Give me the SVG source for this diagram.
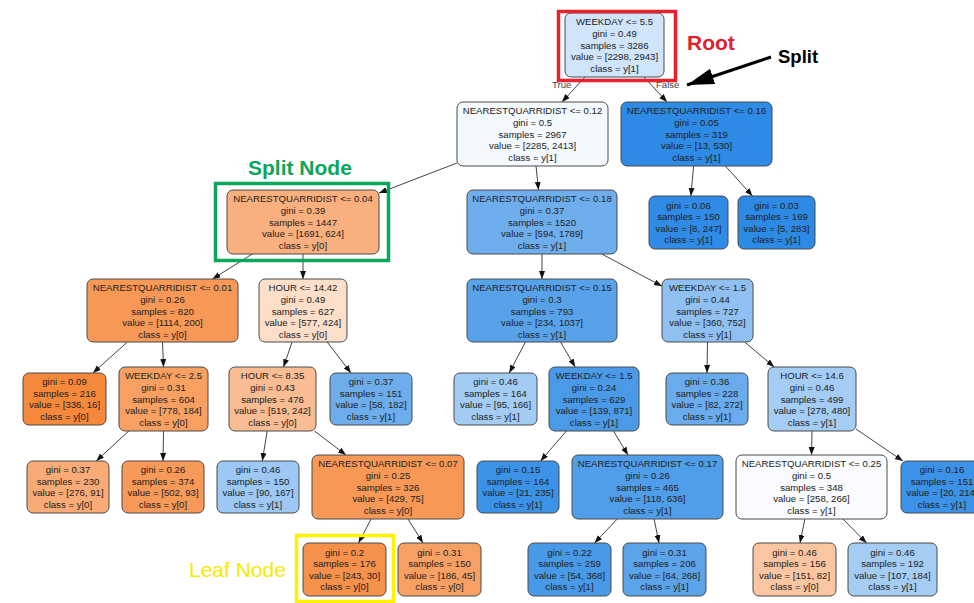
<svg xmlns="http://www.w3.org/2000/svg" width="974" height="603" viewBox="0 0 974 603">
  <defs>
    <marker id="arrow" markerUnits="userSpaceOnUse" markerWidth="9" markerHeight="7" refX="8" refY="3" orient="auto">
      <path d="M0,0 L8,3 L0,6 z" fill="#111"/>
    </marker>
    <marker id="bigArrow" markerUnits="userSpaceOnUse" markerWidth="28" markerHeight="18" refX="27" refY="8" orient="auto">
      <path d="M0,0 L27,8 L0,16 z" fill="#000"/>
    </marker>
  </defs>
  <style>
    .node rect { stroke: #4a4a4a; stroke-width: 1; }
    .node text { font-family: "Liberation Sans", Arial, sans-serif; font-size: 9.6px; fill: #222; text-anchor: middle; }
    .edges line { stroke: #444; stroke-width: 1; marker-end: url(#arrow); }
    .elabel { font-family: "Liberation Sans", Arial, sans-serif; font-size: 9.6px; fill: #444; }
    .note { font-family: "Liberation Sans", Arial, sans-serif; }
  </style>
  <rect width="974" height="603" fill="#fff"/>

  <!-- connectors -->
  <g id="edges" class="edges">
    <line x1="585" y1="77" x2="562" y2="102"/>
    <line x1="644" y1="77" x2="667" y2="102"/>
    <line x1="457" y1="163" x2="379" y2="193"/>
    <line x1="536" y1="166" x2="538.5" y2="190"/>
    <line x1="693.6" y1="166" x2="690.9" y2="196"/>
    <line x1="725.4" y1="166" x2="752.5" y2="196"/>
    <line x1="252.2" y1="254" x2="212.5" y2="279"/>
    <line x1="303" y1="254" x2="303" y2="279"/>
    <line x1="542" y1="254" x2="542" y2="279"/>
    <line x1="601.8" y1="254" x2="662" y2="286.2"/>
    <line x1="127.4" y1="342" x2="92.9" y2="373"/>
    <line x1="162.5" y1="342" x2="163.5" y2="367"/>
    <line x1="292.1" y1="342" x2="283.5" y2="367"/>
    <line x1="327.2" y1="342" x2="351" y2="373"/>
    <line x1="525.4" y1="342" x2="509.2" y2="373"/>
    <line x1="560.5" y1="342" x2="575.2" y2="367"/>
    <line x1="707.5" y1="342" x2="707" y2="373"/>
    <line x1="744.7" y1="342" x2="774.2" y2="367"/>
    <line x1="128.8" y1="431" x2="96.2" y2="461"/>
    <line x1="163.5" y1="431" x2="163" y2="461"/>
    <line x1="267.2" y1="431" x2="262.3" y2="461"/>
    <line x1="314.5" y1="431" x2="346" y2="455"/>
    <line x1="566.4" y1="431" x2="540.5" y2="461"/>
    <line x1="613.5" y1="431" x2="628" y2="455"/>
    <line x1="812" y1="431" x2="811.5" y2="455"/>
    <line x1="856" y1="429" x2="902.9" y2="461"/>
    <line x1="371.1" y1="519" x2="358.5" y2="543"/>
    <line x1="408" y1="519" x2="423" y2="543"/>
    <line x1="617.2" y1="519" x2="594.5" y2="543"/>
    <line x1="654.1" y1="519" x2="659" y2="543"/>
    <line x1="804.9" y1="519" x2="800" y2="543"/>
    <line x1="842.9" y1="519" x2="866.5" y2="543"/>
  </g>
  <text class="elabel" x="552" y="88">True</text>
  <text class="elabel" x="656" y="88">False</text>

  <!-- tree nodes -->
  <g id="n0" class="node"><rect x="565" y="13" width="99" height="64" rx="6" fill="#d0e5f9"/>
    <text x="614.5" y="25.3"><tspan x="614.5">WEEKDAY &lt;= 5.5</tspan><tspan x="614.5" dy="11.6">gini = 0.49</tspan><tspan x="614.5" dy="11.6">samples = 3286</tspan><tspan x="614.5" dy="11.6">value = [2298, 2943]</tspan><tspan x="614.5" dy="11.6">class = y[1]</tspan></text></g>
  <g id="n1" class="node"><rect x="457" y="102" width="151" height="64" rx="6" fill="#f4f9fe"/>
    <text x="532.5" y="114.3"><tspan x="532.5">NEARESTQUARRIDIST &lt;= 0.12</tspan><tspan x="532.5" dy="11.6">gini = 0.5</tspan><tspan x="532.5" dy="11.6">samples = 2967</tspan><tspan x="532.5" dy="11.6">value = [2285, 2413]</tspan><tspan x="532.5" dy="11.6">class = y[1]</tspan></text></g>
  <g id="n2" class="node"><rect x="621" y="102" width="151" height="64" rx="6" fill="#2d8ae5"/>
    <text x="696.5" y="114.3"><tspan x="696.5">NEARESTQUARRIDIST &lt;= 0.16</tspan><tspan x="696.5" dy="11.6">gini = 0.05</tspan><tspan x="696.5" dy="11.6">samples = 319</tspan><tspan x="696.5" dy="11.6">value = [13, 530]</tspan><tspan x="696.5" dy="11.6">class = y[1]</tspan></text></g>
  <g id="n3" class="node"><rect x="227" y="190" width="152" height="64" rx="6" fill="#f9b07e"/>
    <text x="303" y="202.3"><tspan x="303">NEARESTQUARRIDIST &lt;= 0.04</tspan><tspan x="303" dy="11.6">gini = 0.39</tspan><tspan x="303" dy="11.6">samples = 1447</tspan><tspan x="303" dy="11.6">value = [1691, 624]</tspan><tspan x="303" dy="11.6">class = y[0]</tspan></text></g>
  <g id="n4" class="node"><rect x="467" y="190" width="150" height="64" rx="6" fill="#6faeed"/>
    <text x="542" y="202.3"><tspan x="542">NEARESTQUARRIDIST &lt;= 0.18</tspan><tspan x="542" dy="11.6">gini = 0.37</tspan><tspan x="542" dy="11.6">samples = 1520</tspan><tspan x="542" dy="11.6">value = [594, 1789]</tspan><tspan x="542" dy="11.6">class = y[1]</tspan></text></g>
  <g id="n5" class="node"><rect x="649" y="196" width="79" height="53" rx="6" fill="#2f8be5"/>
    <text x="688.5" y="208.6"><tspan x="688.5">gini = 0.06</tspan><tspan x="688.5" dy="11.6">samples = 150</tspan><tspan x="688.5" dy="11.6">value = [8, 247]</tspan><tspan x="688.5" dy="11.6">class = y[1]</tspan></text></g>
  <g id="n6" class="node"><rect x="738" y="196" width="77" height="53" rx="6" fill="#2c89e4"/>
    <text x="776.5" y="208.6"><tspan x="776.5">gini = 0.03</tspan><tspan x="776.5" dy="11.6">samples = 169</tspan><tspan x="776.5" dy="11.6">value = [5, 283]</tspan><tspan x="776.5" dy="11.6">class = y[1]</tspan></text></g>
  <g id="n7" class="node"><rect x="87" y="279" width="151" height="63" rx="6" fill="#f79857"/>
    <text x="162.5" y="291.3"><tspan x="162.5">NEARESTQUARRIDIST &lt;= 0.01</tspan><tspan x="162.5" dy="11.6">gini = 0.26</tspan><tspan x="162.5" dy="11.6">samples = 820</tspan><tspan x="162.5" dy="11.6">value = [1114, 200]</tspan><tspan x="162.5" dy="11.6">class = y[0]</tspan></text></g>
  <g id="n8" class="node"><rect x="259" y="279" width="88" height="63" rx="6" fill="#fcdec9"/>
    <text x="303" y="291.3"><tspan x="303">HOUR &lt;= 14.42</tspan><tspan x="303" dy="11.6">gini = 0.49</tspan><tspan x="303" dy="11.6">samples = 627</tspan><tspan x="303" dy="11.6">value = [577, 424]</tspan><tspan x="303" dy="11.6">class = y[0]</tspan></text></g>
  <g id="n9" class="node"><rect x="467" y="279" width="150" height="63" rx="6" fill="#58a2ea"/>
    <text x="542" y="291.3"><tspan x="542">NEARESTQUARRIDIST &lt;= 0.15</tspan><tspan x="542" dy="11.6">gini = 0.3</tspan><tspan x="542" dy="11.6">samples = 793</tspan><tspan x="542" dy="11.6">value = [234, 1037]</tspan><tspan x="542" dy="11.6">class = y[1]</tspan></text></g>
  <g id="n10" class="node"><rect x="662" y="279" width="91" height="63" rx="6" fill="#8fc0f1"/>
    <text x="707.5" y="291.3"><tspan x="707.5">WEEKDAY &lt;= 1.5</tspan><tspan x="707.5" dy="11.6">gini = 0.44</tspan><tspan x="707.5" dy="11.6">samples = 727</tspan><tspan x="707.5" dy="11.6">value = [360, 752]</tspan><tspan x="707.5" dy="11.6">class = y[1]</tspan></text></g>
  <g id="n11" class="node"><rect x="23" y="373" width="83" height="52" rx="6" fill="#f6883c"/>
    <text x="64.5" y="385.1"><tspan x="64.5">gini = 0.09</tspan><tspan x="64.5" dy="11.6">samples = 216</tspan><tspan x="64.5" dy="11.6">value = [336, 16]</tspan><tspan x="64.5" dy="11.6">class = y[0]</tspan></text></g>
  <g id="n12" class="node"><rect x="119" y="367" width="89" height="64" rx="6" fill="#f7a062"/>
    <text x="163.5" y="379.3"><tspan x="163.5">WEEKDAY &lt;= 2.5</tspan><tspan x="163.5" dy="11.6">gini = 0.31</tspan><tspan x="163.5" dy="11.6">samples = 604</tspan><tspan x="163.5" dy="11.6">value = [778, 184]</tspan><tspan x="163.5" dy="11.6">class = y[0]</tspan></text></g>
  <g id="n13" class="node"><rect x="229" y="367" width="87" height="64" rx="6" fill="#fabc92"/>
    <text x="272.5" y="379.3"><tspan x="272.5">HOUR &lt;= 8.35</tspan><tspan x="272.5" dy="11.6">gini = 0.43</tspan><tspan x="272.5" dy="11.6">samples = 476</tspan><tspan x="272.5" dy="11.6">value = [519, 242]</tspan><tspan x="272.5" dy="11.6">class = y[0]</tspan></text></g>
  <g id="n14" class="node"><rect x="330" y="373" width="82" height="52" rx="6" fill="#6dadec"/>
    <text x="371" y="385.1"><tspan x="371">gini = 0.37</tspan><tspan x="371" dy="11.6">samples = 151</tspan><tspan x="371" dy="11.6">value = [58, 182]</tspan><tspan x="371" dy="11.6">class = y[1]</tspan></text></g>
  <g id="n15" class="node"><rect x="454" y="373" width="83" height="52" rx="6" fill="#a3ccf4"/>
    <text x="495.5" y="385.1"><tspan x="495.5">gini = 0.46</tspan><tspan x="495.5" dy="11.6">samples = 164</tspan><tspan x="495.5" dy="11.6">value = [95, 166]</tspan><tspan x="495.5" dy="11.6">class = y[1]</tspan></text></g>
  <g id="n16" class="node"><rect x="549" y="367" width="90" height="64" rx="6" fill="#4a9ae8"/>
    <text x="594" y="379.3"><tspan x="594">WEEKDAY &lt;= 1.5</tspan><tspan x="594" dy="11.6">gini = 0.24</tspan><tspan x="594" dy="11.6">samples = 629</tspan><tspan x="594" dy="11.6">value = [139, 871]</tspan><tspan x="594" dy="11.6">class = y[1]</tspan></text></g>
  <g id="n17" class="node"><rect x="666" y="373" width="82" height="52" rx="6" fill="#69abec"/>
    <text x="707" y="385.1"><tspan x="707">gini = 0.36</tspan><tspan x="707" dy="11.6">samples = 228</tspan><tspan x="707" dy="11.6">value = [82, 272]</tspan><tspan x="707" dy="11.6">class = y[1]</tspan></text></g>
  <g id="n18" class="node"><rect x="768" y="367" width="88" height="64" rx="6" fill="#a5ccf4"/>
    <text x="812" y="379.3"><tspan x="812">HOUR &lt;= 14.6</tspan><tspan x="812" dy="11.6">gini = 0.46</tspan><tspan x="812" dy="11.6">samples = 499</tspan><tspan x="812" dy="11.6">value = [278, 480]</tspan><tspan x="812" dy="11.6">class = y[1]</tspan></text></g>
  <g id="n19" class="node"><rect x="27" y="461" width="82" height="52" rx="6" fill="#f8ab76"/>
    <text x="68" y="473.1"><tspan x="68">gini = 0.37</tspan><tspan x="68" dy="11.6">samples = 230</tspan><tspan x="68" dy="11.6">value = [276, 91]</tspan><tspan x="68" dy="11.6">class = y[0]</tspan></text></g>
  <g id="n20" class="node"><rect x="122" y="461" width="82" height="52" rx="6" fill="#f79958"/>
    <text x="163" y="473.1"><tspan x="163">gini = 0.26</tspan><tspan x="163" dy="11.6">samples = 374</tspan><tspan x="163" dy="11.6">value = [502, 93]</tspan><tspan x="163" dy="11.6">class = y[0]</tspan></text></g>
  <g id="n21" class="node"><rect x="217" y="461" width="82" height="52" rx="6" fill="#9cc8f3"/>
    <text x="258" y="473.1"><tspan x="258">gini = 0.46</tspan><tspan x="258" dy="11.6">samples = 150</tspan><tspan x="258" dy="11.6">value = [90, 167]</tspan><tspan x="258" dy="11.6">class = y[1]</tspan></text></g>
  <g id="n22" class="node"><rect x="312" y="455" width="152" height="64" rx="6" fill="#f79856"/>
    <text x="388" y="467.3"><tspan x="388">NEARESTQUARRIDIST &lt;= 0.07</tspan><tspan x="388" dy="11.6">gini = 0.25</tspan><tspan x="388" dy="11.6">samples = 326</tspan><tspan x="388" dy="11.6">value = [429, 75]</tspan><tspan x="388" dy="11.6">class = y[0]</tspan></text></g>
  <g id="n23" class="node"><rect x="477" y="461" width="82" height="52" rx="6" fill="#3b92e6"/>
    <text x="518" y="473.1"><tspan x="518">gini = 0.15</tspan><tspan x="518" dy="11.6">samples = 164</tspan><tspan x="518" dy="11.6">value = [21, 235]</tspan><tspan x="518" dy="11.6">class = y[1]</tspan></text></g>
  <g id="n24" class="node"><rect x="572" y="455" width="151" height="64" rx="6" fill="#509de9"/>
    <text x="647.5" y="467.3"><tspan x="647.5">NEARESTQUARRIDIST &lt;= 0.17</tspan><tspan x="647.5" dy="11.6">gini = 0.26</tspan><tspan x="647.5" dy="11.6">samples = 465</tspan><tspan x="647.5" dy="11.6">value = [118, 636]</tspan><tspan x="647.5" dy="11.6">class = y[1]</tspan></text></g>
  <g id="n25" class="node"><rect x="736" y="455" width="151" height="64" rx="6" fill="#f9fbfe"/>
    <text x="811.5" y="467.3"><tspan x="811.5">NEARESTQUARRIDIST &lt;= 0.25</tspan><tspan x="811.5" dy="11.6">gini = 0.5</tspan><tspan x="811.5" dy="11.6">samples = 348</tspan><tspan x="811.5" dy="11.6">value = [258, 266]</tspan><tspan x="811.5" dy="11.6">class = y[1]</tspan></text></g>
  <g id="n26" class="node"><rect x="901" y="461" width="82" height="52" rx="6" fill="#3c92e7"/>
    <text x="942" y="473.1"><tspan x="942">gini = 0.16</tspan><tspan x="942" dy="11.6">samples = 151</tspan><tspan x="942" dy="11.6">value = [20, 214]</tspan><tspan x="942" dy="11.6">class = y[1]</tspan></text></g>
  <g id="n27" class="node"><rect x="303" y="543" width="83" height="53" rx="6" fill="#f6914b"/>
    <text x="344.5" y="555.6"><tspan x="344.5">gini = 0.2</tspan><tspan x="344.5" dy="11.6">samples = 176</tspan><tspan x="344.5" dy="11.6">value = [243, 30]</tspan><tspan x="344.5" dy="11.6">class = y[0]</tspan></text></g>
  <g id="n28" class="node"><rect x="398" y="543" width="83" height="53" rx="6" fill="#f7a064"/>
    <text x="439.5" y="555.6"><tspan x="439.5">gini = 0.31</tspan><tspan x="439.5" dy="11.6">samples = 150</tspan><tspan x="439.5" dy="11.6">value = [186, 45]</tspan><tspan x="439.5" dy="11.6">class = y[0]</tspan></text></g>
  <g id="n29" class="node"><rect x="528" y="543" width="83" height="53" rx="6" fill="#489ae8"/>
    <text x="569.5" y="555.6"><tspan x="569.5">gini = 0.22</tspan><tspan x="569.5" dy="11.6">samples = 259</tspan><tspan x="569.5" dy="11.6">value = [54, 368]</tspan><tspan x="569.5" dy="11.6">class = y[1]</tspan></text></g>
  <g id="n30" class="node"><rect x="623" y="543" width="83" height="53" rx="6" fill="#5ba4ea"/>
    <text x="664.5" y="555.6"><tspan x="664.5">gini = 0.31</tspan><tspan x="664.5" dy="11.6">samples = 206</tspan><tspan x="664.5" dy="11.6">value = [64, 268]</tspan><tspan x="664.5" dy="11.6">class = y[1]</tspan></text></g>
  <g id="n31" class="node"><rect x="753" y="543" width="83" height="53" rx="6" fill="#fac6a1"/>
    <text x="794.5" y="555.6"><tspan x="794.5">gini = 0.46</tspan><tspan x="794.5" dy="11.6">samples = 156</tspan><tspan x="794.5" dy="11.6">value = [151, 82]</tspan><tspan x="794.5" dy="11.6">class = y[0]</tspan></text></g>
  <g id="n32" class="node"><rect x="848" y="543" width="89" height="53" rx="6" fill="#a5cdf4"/>
    <text x="892.5" y="555.6"><tspan x="892.5">gini = 0.46</tspan><tspan x="892.5" dy="11.6">samples = 192</tspan><tspan x="892.5" dy="11.6">value = [107, 184]</tspan><tspan x="892.5" dy="11.6">class = y[1]</tspan></text></g>

  <!-- callouts -->
  <g id="root-callout">
    <rect x="558.5" y="11.5" width="117" height="69" fill="none" stroke="#e8212b" stroke-width="3.5"/>
    <text class="note" x="687" y="50" font-size="21" font-weight="bold" fill="#e0202a">Root</text>
  </g>
  <g id="split-callout">
    <line x1="771" y1="57" x2="687" y2="85" stroke="#000" stroke-width="3" marker-end="url(#bigArrow)"/>
    <text class="note" x="778" y="63" font-size="18.5" font-weight="bold" fill="#000">Split</text>
  </g>
  <g id="split-node-callout">
    <rect x="215.5" y="183.5" width="173" height="77" fill="none" stroke="#0aa65a" stroke-width="3.5"/>
    <text class="note" x="248" y="175" font-size="21" font-weight="bold" fill="#0aa65a">Split Node</text>
  </g>
  <g id="leaf-node-callout">
    <rect x="296.5" y="535.5" width="97" height="66" fill="none" stroke="#fff200" stroke-width="3.5"/>
    <text class="note" x="189" y="577" font-size="21" fill="#f5ea00">Leaf Node</text>
  </g>
</svg>
